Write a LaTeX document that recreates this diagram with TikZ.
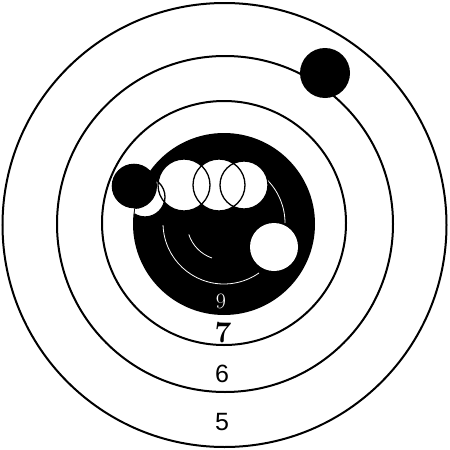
\documentclass[tikz,border=0pt]{standalone}
\usepackage{fontspec}
\newfontfamily\ziffer{Liberation Sans}

\begin{document}
\begin{tikzpicture}[x=1pt,y=-1pt,
        ring/.style={draw=black,line width=2pt},
        loch/.style={fill=white},
        rand/.style={draw=black,line width=1.3pt},
        spur/.style={draw=white,line width=0.8pt},
        zahl/.style={font=\ziffer\fontsize{25}{25}\selectfont}]
        \useasboundingbox (0,0) rectangle (450,450);
        \fill[white] (0,0) rectangle (450,450);
        \draw[ring] (224.5,225) circle[radius=222];
        \draw[ring] (225,224) circle[radius=168];
        \draw[ring] (224,223) circle[radius=122];
        \fill[black] (224,224) circle[radius=91];
        \draw[spur] (224,223) ++(178:61) arc[start angle=178,end angle=55,radius=61];
        \draw[spur] (224,223) ++(-45:61) arc[start angle=-45,end angle=0,radius=61];
        \draw[spur] (224,223) ++(162:37) arc[start angle=162,end angle=109,radius=37];
        \begin{scope}
          \clip (224,224) circle[radius=90];
          \fill[loch] (145,197) circle[radius=20];\fill[loch] (184,185) circle[radius=26];\fill[loch] (219,185) circle[radius=26];\fill[loch] (244,185) circle[radius=24];
          \fill[black] (134,186) circle[radius=23];
          \draw[rand] (145,197) circle[radius=20];\draw[rand] (184,185) circle[radius=26];\draw[rand] (219,185) circle[radius=26];\draw[rand] (244,185) circle[radius=24];
        \end{scope}
        \fill[loch] (274,247) circle[radius=24];
        \fill[black] (134,186) circle[radius=22.3];
        \fill[black] (325,73) circle[radius=25];
        \node[font=\bfseries\fontsize{30}{30}\selectfont] (sieben) at (223,333) {7};
        \node[zahl] (sechs) at (222,374) {6};
        \node[zahl] (fuenf) at (222,422) {5};
        \node[font=\fontsize{22}{22}\selectfont,text=white] (neun) at (221,301) {9};
      \end{tikzpicture}
\end{document}
